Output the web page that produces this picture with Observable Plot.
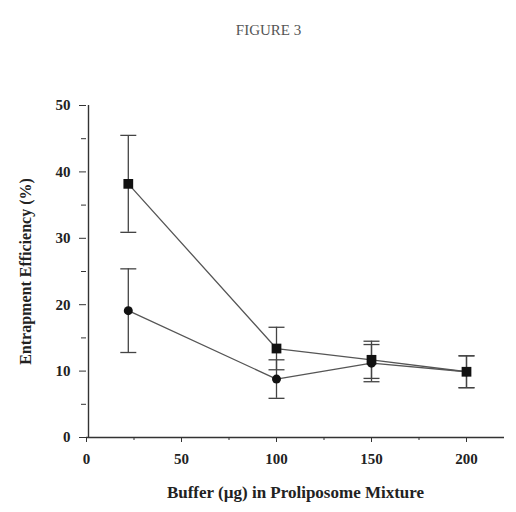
<!DOCTYPE html>
<html>
<head>
<meta charset="utf-8">
<script src="https://cdn.jsdelivr.net/npm/d3@7"></script>
<script src="https://cdn.jsdelivr.net/npm/@observablehq/plot@0.6"></script>
<style>
  html, body { margin: 0; padding: 0; background: #fff; }
  svg { display: block; }
</style>
</head>
<body>
<div id="chart"></div>
<script>
// Data
const buffer = [22, 100, 150, 200];
const squareMean = [38.2, 13.4, 11.7, 9.9];
const squareErr  = [7.3, 3.2, 2.8, 2.4];
const circleMean = [19.1, 8.8, 11.2, 9.9];
const circleErr  = [6.3, 2.9, 2.8, 2.4];

const yMajor = [0, 10, 20, 30, 40, 50];
const yMinor = [5, 15, 25, 35, 45];
const xMajor = [0, 50, 100, 150, 200];
const xMinor = [25, 75, 125, 175];

const titleText = "FIGURE 3";
const xLabel = "Buffer (\u00b5g) in Proliposome Mixture";
const yLabel = "Entrapment Efficiency (%)";

const squares = buffer.map((x, i) => ({x, y: squareMean[i], lo: squareMean[i] - squareErr[i], hi: squareMean[i] + squareErr[i]}));
const circles = buffer.map((x, i) => ({x, y: circleMean[i], lo: circleMean[i] - circleErr[i], hi: circleMean[i] + circleErr[i]}));
const all = squares.concat(circles);
const caps = all.flatMap(d => [{x: d.x, y: d.lo}, {x: d.x, y: d.hi}]);

const capSymbol = {
  draw(context, size) {
    const w = 8;
    context.moveTo(-w, 0);
    context.lineTo(w, 0);
  }
};

const font = "'Liberation Serif', 'DejaVu Serif', serif";
const ink = "#333";

const plot = Plot.plot({
  width: 516,
  height: 512,
  marginLeft: 86,
  marginRight: 12,
  marginTop: 105,
  marginBottom: 75,
  style: {fontFamily: font, background: "#fff"},
  x: {domain: [0, 220]},
  y: {domain: [0, 50]},
  marks: [
    Plot.axisY(yMajor, {tickSize: 7, tickPadding: 9, fontSize: 15, fontWeight: "bold", stroke: ink, color: "#222", label: null}),
    Plot.axisY(yMinor, {tickSize: 5, text: null, stroke: ink, label: null}),
    Plot.axisX(xMajor, {tickSize: 5, tickPadding: 11, fontSize: 15, fontWeight: "bold", stroke: ink, color: "#222", label: null}),
    Plot.axisX(xMinor, {tickSize: 3, text: null, stroke: ink, label: null}),
    Plot.ruleY([0], {stroke: ink, strokeWidth: 1.4}),
    Plot.ruleX([0], {stroke: ink, strokeWidth: 1.4, dx: 2}),
    Plot.ruleX(all, {x: "x", y1: "lo", y2: "hi", stroke: "#444", strokeWidth: 1.3}),
    Plot.dot(caps, {x: "x", y: "y", symbol: capSymbol, stroke: "#444", strokeWidth: 1.3, r: 4}),
    Plot.line(squares, {x: "x", y: "y", stroke: "#555", strokeWidth: 1.3}),
    Plot.line(circles, {x: "x", y: "y", stroke: "#555", strokeWidth: 1.3}),
    Plot.dot(circles, {x: "x", y: "y", symbol: "circle", r: 4.5, fill: "#111", stroke: "none"}),
    Plot.dot(squares, {x: "x", y: "y", symbol: "square", r: 5.5, fill: "#111", stroke: "none"}),
    Plot.text([titleText], {frameAnchor: "top-left", dx: 182, dy: -81, fontSize: 15, fill: "#555", textAnchor: "middle"}),
    Plot.text([xLabel], {frameAnchor: "bottom", dy: 60, fontSize: 17, fontWeight: "bold", fill: "#222", textAnchor: "middle"}),
    Plot.text([yLabel], {frameAnchor: "left", dx: -61, rotate: -90, fontSize: 16, fontWeight: "bold", fill: "#222", textAnchor: "middle"})
  ]
});
document.getElementById("chart").appendChild(plot);
</script>
</body>
</html>
